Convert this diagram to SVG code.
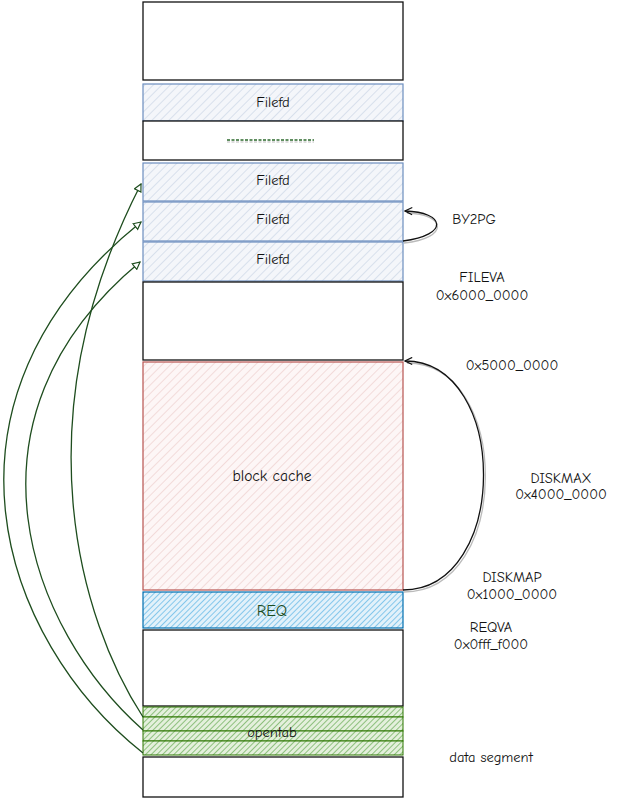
<svg xmlns="http://www.w3.org/2000/svg" width="625" height="799" viewBox="0 0 625 799">
<style>
text{font-family:"Comic Neue","DejaVu Sans","Liberation Sans",sans-serif;font-size:14.5px;fill:#111;text-anchor:middle;dominant-baseline:central}
.box{fill:#fff;stroke:#111;stroke-width:1.3}
.fd{fill:url(#hBlue);stroke:#6c8ebf;stroke-width:1.2}
.bc{fill:url(#hRed);stroke:#b85450;stroke-width:1.2}
.req{fill:url(#hReq);stroke:#006eaf;stroke-width:1.2}
.ot{fill:url(#hGreen);stroke:#2d7600;stroke-width:1}
.gc{fill:none;stroke:#1e4d1e;stroke-width:1.3;marker-end:url(#ga)}
.bk{fill:none;stroke:#111;stroke-width:1.3;marker-end:url(#ba)}
.sh{fill:none;stroke:#bbb;stroke-width:1.3}
</style>
<defs>
<pattern id="hBlue" width="6" height="6" patternUnits="userSpaceOnUse" patternTransform="rotate(45)"><rect width="6" height="6" fill="#f4f6fa"/><line x1="0" y1="0" x2="0" y2="6" stroke="#c5d1e3" stroke-width="1.2"/></pattern>
<pattern id="hRed" width="6" height="6" patternUnits="userSpaceOnUse" patternTransform="rotate(45)"><rect width="6" height="6" fill="#fdf6f6"/><line x1="0" y1="0" x2="0" y2="6" stroke="#ecc9c7" stroke-width="1.2"/></pattern>
<pattern id="hReq" width="4" height="4" patternUnits="userSpaceOnUse" patternTransform="rotate(45)"><rect width="4" height="4" fill="#e2f1fa"/><line x1="0" y1="0" x2="0" y2="4" stroke="#52b0e3" stroke-width="1.3"/></pattern>
<pattern id="hGreen" width="4" height="4" patternUnits="userSpaceOnUse" patternTransform="rotate(45)"><rect width="4" height="4" fill="#e4f0dc"/><line x1="0" y1="0" x2="0" y2="4" stroke="#5fa64a" stroke-width="1.3"/></pattern>
<marker id="ga" viewBox="0 0 10 10" refX="9" refY="5" markerWidth="9" markerHeight="9" orient="auto" markerUnits="userSpaceOnUse"><path d="M1,1 L9,5 L1,9 Z" fill="#fff" stroke="#1e4d1e" stroke-width="1.3"/></marker>
<marker id="ba" viewBox="0 0 10 10" refX="9" refY="5" markerWidth="9" markerHeight="9" orient="auto" markerUnits="userSpaceOnUse"><path d="M1,1 L9,5 L1,9" fill="none" stroke="#111" stroke-width="1.3"/></marker>
</defs>
<rect width="625" height="799" fill="#fff"/>

<g id="top-box"><rect class="box" x="143" y="2" width="260" height="78"/></g>
<g id="filefd-1"><rect class="fd" x="143" y="84" width="260" height="37"/><text x="273" y="102">Filefd</text></g>
<g id="gap-box"><rect class="box" x="143" y="121" width="260" height="39"/><line x1="227" y1="142" x2="314" y2="142" stroke="#bbb" stroke-width="1.2" stroke-dasharray="3 1.5"/><line x1="227" y1="140" x2="314" y2="140" stroke="#2d6a2d" stroke-width="1.4" stroke-dasharray="3 1.5"/></g>
<g id="filefd-2"><rect class="fd" x="143" y="163" width="260" height="38"/><text x="273" y="180">Filefd</text></g>
<g id="filefd-3"><rect class="fd" x="143" y="202" width="260" height="39"/><text x="273" y="219">Filefd</text></g>
<g id="filefd-4"><rect class="fd" x="143" y="242" width="260" height="39"/><text x="273" y="259">Filefd</text></g>
<g id="free-box"><rect class="box" x="143" y="282" width="260" height="78"/></g>
<g id="block-cache"><rect class="bc" x="143" y="362" width="260" height="228"/><text x="272" y="476" style="font-size:15.5px">block cache</text></g>
<g id="req"><rect class="req" x="143" y="592" width="260" height="36"/><text x="272" y="611" style="font-size:16px;fill:#1e4d1e">REQ</text></g>
<g id="mid-box"><rect class="box" x="143" y="630" width="260" height="76"/></g>
<g id="opentab">
<rect class="ot" x="143" y="707" width="260" height="10"/>
<rect class="ot" x="143" y="717" width="260" height="14"/>
<rect class="ot" x="143" y="731" width="260" height="10"/>
<rect class="ot" x="143" y="741" width="260" height="14"/>
<text x="272" y="732">opentab</text>
</g>
<g id="bottom-box"><rect class="box" x="143" y="757" width="260" height="40"/></g>

<g id="connectors">
<path class="gc" d="M143,753 C0,640 -80,400 141,222"/>
<path class="gc" d="M143,730 C30,630 -50,420 140,262"/>
<path class="gc" d="M143,717 C80,620 20,420 141,184"/>
<path class="sh" d="M404,243 C450,238 446,214 407,213"/>
<path class="bk" d="M403,241 C450,235 445,212 405,211"/>
<path class="sh" d="M404,592 C512,592 512,363 407,363"/>
<path class="bk" d="M403,590 C510,590 510,361 405,361"/>
</g>

<g id="labels">
<text x="474" y="219">BY2PG</text>
<text x="482" y="277">FILEVA</text>
<text x="482" y="295">0x6000_0000</text>
<text x="512" y="365">0x5000_0000</text>
<text x="561" y="478">DISKMAX</text>
<text x="561" y="494">0x4000_0000</text>
<text x="512" y="577">DISKMAP</text>
<text x="512" y="594">0x1000_0000</text>
<text x="491" y="627">REQVA</text>
<text x="491" y="644">0x0fff_f000</text>
<text x="491" y="757">data segment</text>
</g>
</svg>
